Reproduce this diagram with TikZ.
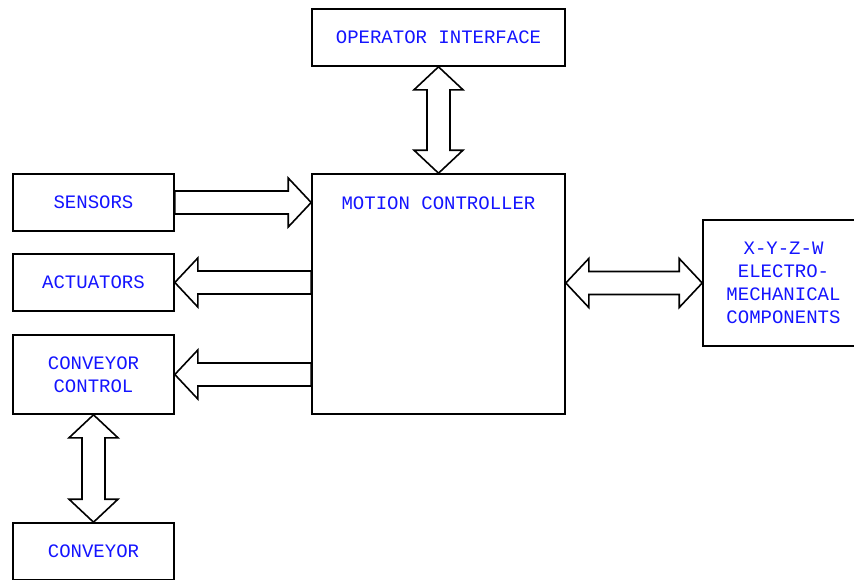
\documentclass[tikz,border=0pt]{standalone}
\usepackage{fontspec}
\newfontfamily\plotfont{Liberation Mono}
\usetikzlibrary{calc}
\definecolor{txtblue}{RGB}{20,20,255}
\tikzset{
  blk/.style={draw=black, line width=1.6pt, rectangle, inner sep=0pt, fill=white},
  lbl/.style={text=txtblue, font=\plotfont\fontsize{19}{23}\selectfont, align=center, inner sep=0pt},
  fat/.style={draw=black, line width=1.6pt, line join=miter, fill=white}
}
% single hollow arrow from #1 (tail) to #2 (tip)
\newcommand{\fatarrow}[2]{%
  \coordinate (Q1) at ($(#2)!23pt!(#1)$);
  \draw[fat] ($(#1)!11.5pt!90:(#2)$) -- ($(Q1)!11.5pt!-90:(#1)$) -- ($(Q1)!24.5pt!-90:(#1)$) -- (#2)
    -- ($(Q1)!24.5pt!90:(#1)$) -- ($(Q1)!11.5pt!90:(#1)$) -- ($(#1)!11.5pt!-90:(#2)$) -- cycle;}
% double-headed hollow arrow between #1 and #2
\newcommand{\fatdouble}[2]{%
  \coordinate (P1) at ($(#1)!23pt!(#2)$);
  \coordinate (Q1) at ($(#2)!23pt!(#1)$);
  \draw[fat] (#1) -- ($(P1)!24.5pt!90:(#2)$) -- ($(P1)!11.5pt!90:(#2)$) -- ($(Q1)!11.5pt!-90:(#1)$)
    -- ($(Q1)!24.5pt!-90:(#1)$) -- (#2) -- ($(Q1)!24.5pt!90:(#1)$) -- ($(Q1)!11.5pt!90:(#1)$)
    -- ($(P1)!11.5pt!-90:(#2)$) -- ($(P1)!24.5pt!-90:(#2)$) -- cycle;}
\begin{document}
\begin{tikzpicture}[x=1pt,y=-1pt]
\useasboundingbox (0,0) rectangle (854,579);
\clip (0,0) rectangle (854,579);
\fill[white] (0,0) rectangle (854,579);
% blocks
\node[blk, minimum width=253pt, minimum height=57pt] (oi) at (438.5,37.5) {};
\node[blk, minimum width=253pt, minimum height=240pt] (mc) at (438.5,294) {};
\node[blk, minimum width=161pt, minimum height=57pt] (sen) at (93.5,202.5) {};
\node[blk, minimum width=161pt, minimum height=57pt] (act) at (93.5,282.5) {};
\node[blk, minimum width=161pt, minimum height=79pt] (cc) at (93.5,374.5) {};
\node[blk, minimum width=161pt, minimum height=57pt] (conv) at (93.5,551.5) {};
\node[blk, minimum width=161pt, minimum height=126pt] (xyz) at (783.5,283) {};
% labels
\node[lbl] (oit) at (oi.center) {OPERATOR INTERFACE};
\node[lbl] (mct) at (438.5,203) {MOTION CONTROLLER};
\node[lbl] (sent) at (sen.center) {SENSORS};
\node[lbl] (actt) at (act.center) {ACTUATORS};
\node[lbl] (cct) at (cc.center) {CONVEYOR\\CONTROL};
\node[lbl] (convt) at (conv.center) {CONVEYOR};
\node[lbl] (xyzt) at (xyz.center) {X-Y-Z-W\\ELECTRO-\\MECHANICAL\\COMPONENTS};
% connectors
\coordinate (a1) at (sen.east);
\coordinate (b1) at (mc.west |- sen.east);
\fatarrow{a1}{b1}
\coordinate (a2) at (mc.west |- act.east);
\coordinate (b2) at (act.east);
\fatarrow{a2}{b2}
\coordinate (a3) at (mc.west |- cc.east);
\coordinate (b3) at (cc.east);
\fatarrow{a3}{b3}
\coordinate (a4) at (oi.south);
\coordinate (b4) at (mc.north);
\fatdouble{a4}{b4}
\coordinate (a5) at (mc.east |- xyz.west);
\coordinate (b5) at (xyz.west);
\fatdouble{a5}{b5}
\coordinate (a6) at (cc.south);
\coordinate (b6) at (conv.north);
\fatdouble{a6}{b6}
\end{tikzpicture}
\end{document}
